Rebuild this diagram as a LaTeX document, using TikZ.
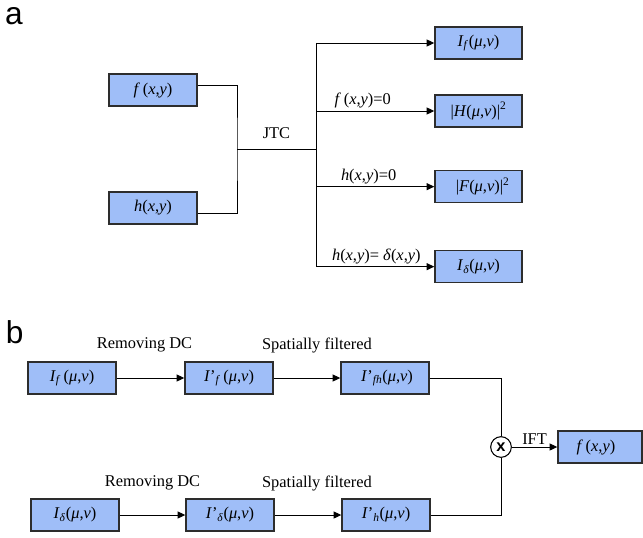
\documentclass[tikz,border=0pt]{standalone}
\usepackage{fontspec}
\setmainfont{Liberation Serif}
\newfontfamily\panelfont{Liberation Sans}
\usepackage{xcolor}
\usepackage{tikz}
\usetikzlibrary{arrows.meta,positioning,calc}
\definecolor{boxblue}{RGB}{159,190,248}
\definecolor{boxedge}{RGB}{45,45,45}
\newcommand{\argxy}{(\textit{x},\textit{y})}
\newcommand{\argmv}{(\textit{μ},\textit{v})}
\tikzset{
  specbox/.style={draw=boxedge, fill=boxblue, line width=1.2pt, minimum width=26.4mm, minimum height=9.6mm, inner sep=2pt, font=\fontsize{14}{16}\selectfont},
  flowline/.style={line width=0.8pt},
  flowarrow/.style={-{Triangle[length=2.3mm,width=2.1mm]}, line width=0.8pt},
  steplabel/.style={font=\fontsize{14}{16}\selectfont, inner sep=1pt},
  mulnode/.style={draw, circle, line width=0.9pt, minimum size=6.2mm, inner sep=0pt, fill=white, font=\panelfont\bfseries\fontsize{14}{14}\selectfont},
  panellabel/.style={font=\panelfont\fontsize{27}{30}\selectfont, inner sep=0pt}
}

\begin{document}
\begin{tikzpicture}
\useasboundingbox (0,0) rectangle (19.29,-16.11);
% panel a
\node[panellabel] (pa) at (0.42,-0.47) {a};
\node[specbox] (fa) at (4.59,-2.70) {\textit{f}\,\argxy};
\node[specbox] (ha) at (4.59,-6.24) {\textit{h}\argxy};
\coordinate (jtc) at (7.11,-4.47);
\coordinate (split) at (9.48,-4.47);
\node[specbox, minimum width=26.1mm] (If) at (14.355,-1.29) {\textit{I}\textsubscript{\textit{f}}\argmv};
\node[specbox, minimum width=26.1mm] (Hsq) at (14.355,-3.33) {|\textit{H}\argmv|\textsuperscript{2}};
\node[specbox, minimum width=26.1mm] (Fsq) at (14.355,-5.60) {\ \ |\textit{F}\argmv|\textsuperscript{2}};
\node[specbox, minimum width=26.1mm] (Id) at (14.355,-8.00) {\textit{I}\textsubscript{\textit{δ}}\argmv};
\draw[flowline] ([yshift=1.5mm]fa.east) -| (jtc) |- ([yshift=-1.5mm]ha.east);
\draw[flowline] (jtc) -- node[steplabel, midway, yshift=0.48cm] {JTC} (split);
\draw[flowline] (split |- If) -- (split |- Id);
\draw[flowarrow] (split |- If) -- (If.west);
\draw[flowarrow] (split |- Hsq) -- node[steplabel, pos=0.395, above=1pt] {\textit{f}\,\argxy=0} (Hsq.west);
\draw[flowarrow] (split |- Fsq) -- node[steplabel, pos=0.445, above=1pt] {\textit{h}\argxy=0} (Fsq.west);
\draw[flowarrow] (split |- Id) -- node[steplabel, pos=0.51, above=1pt] {\textit{h}\argxy= \textit{δ}\argxy} (Id.west);
% panel b
\node[panellabel] (pb) at (0.44,-9.96) {b};
\node[specbox] (If1) at (2.16,-11.34) {\textit{I}\textsubscript{\textit{f}}\,\argmv};
\node[specbox] (Ifp) at (6.87,-11.34) {\textit{I}’\textsubscript{\textit{f}}\,\argmv};
\node[specbox] (Ifh) at (11.55,-11.34) {\ \textit{I}’\textsubscript{\textit{fh}}\argmv};
\node[specbox] (Id1) at (2.25,-15.45) {\textit{I}\textsubscript{\textit{δ}}\argmv};
\node[specbox] (Idp) at (6.90,-15.45) {\textit{I}’\textsubscript{\textit{δ}}\argmv};
\node[specbox] (Ih) at (11.58,-15.45) {\textit{I}’\textsubscript{\textit{h}}\argmv};
\node[mulnode] (mult) at (15.03,-13.41) {x};
\node[specbox, minimum width=25.2mm] (out) at (18.0,-13.41) {\textit{f}\,\argxy\ \ \ };
\draw[flowarrow] (If1) -- node[steplabel, midway, xshift=-0.18cm, yshift=0.98cm] {Removing DC} (Ifp);
\draw[flowarrow] (Ifp) -- node[steplabel, midway, xshift=0.3cm, yshift=0.98cm] {Spatially filtered} (Ifh);
\draw[flowarrow] (Id1) -- node[steplabel, midway, yshift=0.96cm] {Removing DC} (Idp);
\draw[flowarrow] (Idp) -- node[steplabel, midway, xshift=0.27cm, yshift=0.96cm] {Spatially filtered} (Ih);
\draw[flowline] (Ifh.east) -| (mult.north);
\draw[flowline] (Ih.east) -| (mult.south);
\draw[flowarrow] (mult) -- node[steplabel, above=1pt] {IFT} (out);
\end{tikzpicture}
\end{document}
